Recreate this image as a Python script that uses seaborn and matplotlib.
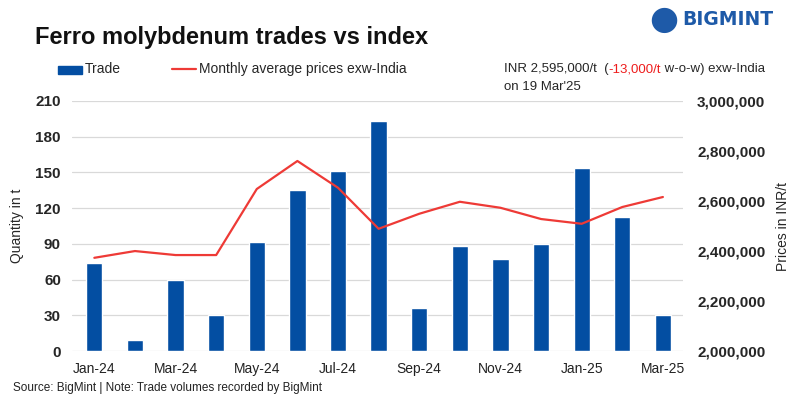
import numpy as np
import pandas as pd
import matplotlib.pyplot as plt
import seaborn as sns
from matplotlib.ticker import FuncFormatter

months = ['Jan-24', 'Feb-24', 'Mar-24', 'Apr-24', 'May-24', 'Jun-24', 'Jul-24', 'Aug-24',
          'Sep-24', 'Oct-24', 'Nov-24', 'Dec-24', 'Jan-25', 'Feb-25', 'Mar-25']
trade = [74, 9, 60, 30, 92, 135, 151, 193, 36, 88, 77, 90, 154, 113, 30]
price = [2373000, 2400000, 2384000, 2384000, 2648000, 2760000, 2653000, 2489000,
         2549000, 2597000, 2573000, 2528000, 2509000, 2576000, 2616000]

bar_col = '#034ea2'
line_col = '#ee3a36'

sns.set_theme(style='white')
plt.rcParams['font.family'] = ['Liberation Sans', 'DejaVu Sans']

df = pd.DataFrame({'month': months, 'trade': trade, 'price': price})

fig = plt.figure(figsize=(8, 3.99), dpi=100)
ax = fig.add_axes([0.09, 0.12, 0.764, 0.627])

sns.barplot(data=df, x='month', y='trade', color=bar_col, width=0.4, saturation=1, ax=ax)
ax.set_ylim(0, 210)
ax.set_yticks(range(0, 211, 30))
ax.set_xlim(-0.55, 14.5)
ax.yaxis.grid(True, color='#d9d9d9', linewidth=0.9)
ax.set_axisbelow(True)
ax.set_xticks(range(0, 15, 2))
ax.set_xticklabels(months[::2], fontsize=10, color='#222222')
for lbl in ax.get_yticklabels():
    lbl.set_fontweight('bold')
    lbl.set_fontsize(11)
ax.tick_params(axis='both', length=0, pad=8)
ax.set_xlabel('')
ax.set_ylabel('Quantity in t', fontsize=10, labelpad=8)
for s in ax.spines.values():
    s.set_visible(False)

ax2 = ax.twinx()
sns.lineplot(x=np.arange(len(months)), y=df['price'], color=line_col, linewidth=1.6, ax=ax2)
ax2.set_ylim(2000000, 3000000)
ax2.set_yticks(range(2000000, 3000001, 200000))
ax2.yaxis.set_major_formatter(FuncFormatter(lambda v, p: f'{int(v):,}'))
for lbl in ax2.get_yticklabels():
    lbl.set_fontweight('bold')
    lbl.set_fontsize(11)
ax2.tick_params(axis='y', length=0, pad=10)
ax2.set_ylabel('Prices in INR/t', fontsize=10, labelpad=8)
ax2.grid(False)
for s in ax2.spines.values():
    s.set_visible(False)

fig.text(0.044, 0.905, 'Ferro molybdenum trades vs index', fontsize=17, fontweight='bold',
         va='center', color='#111111')

# legend
fig.patches.append(plt.Rectangle((0.072, 0.815), 0.03, 0.02, transform=fig.transFigure,
                                 color=bar_col, figure=fig))
fig.text(0.106, 0.826, 'Trade', fontsize=10, va='center')
fig.lines.append(plt.Line2D([0.215, 0.245], [0.826, 0.826], transform=fig.transFigure,
                            color=line_col, linewidth=1.6))
fig.text(0.249, 0.826, 'Monthly average prices exw-India', fontsize=10, va='center')

# annotation, pieces chained one after the other
t1 = fig.text(0.63, 0.826, 'INR 2,595,000/t  (', fontsize=9.5, va='center')
t2 = ax.annotate('-13,000/t', xy=(1, 0.5), xycoords=t1, va='center', ha='left',
                 fontsize=9.5, color='#ee1c1c')
ax.annotate(' w-o-w) exw-India', xy=(1, 0.5), xycoords=t2, va='center', ha='left',
            fontsize=9.5)
fig.text(0.63, 0.783, "on 19 Mar'25", fontsize=9.5, va='center')

# logo
fig.text(0.83, 0.952, '\u25CF', fontsize=24, color='#1e5aa8', va='center', ha='center',
         family='DejaVu Sans')
fig.text(0.853, 0.952, 'BIGMINT', fontsize=13.5, fontweight='bold', color='#1e5aa8',
         va='center', family='DejaVu Sans')

fig.text(0.016, 0.028, 'Source: BigMint | Note: Trade volumes recorded by BigMint', fontsize=8.5,
         va='center', color='#222222')

fig.savefig('out.png', dpi=100)
